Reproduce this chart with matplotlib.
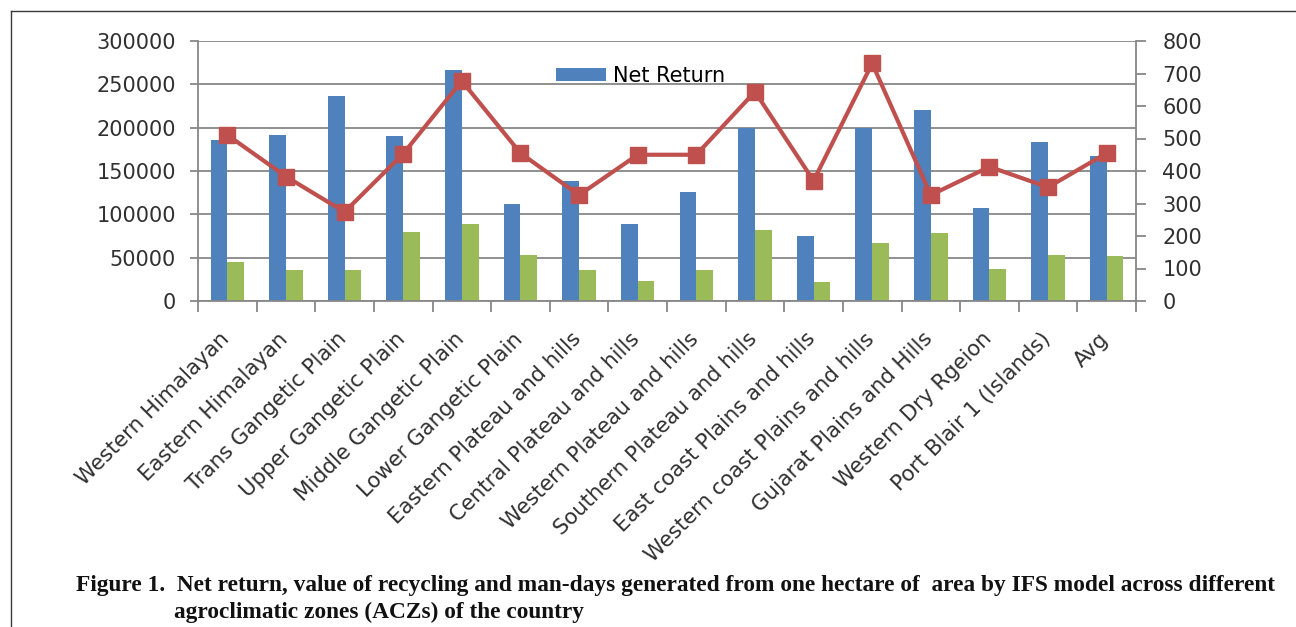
import numpy as np
import matplotlib
matplotlib.use("Agg")
import matplotlib.pyplot as plt
from matplotlib.lines import Line2D
from matplotlib.transforms import ScaledTranslation

zones = [
    "Western Himalayan", "Eastern Himalayan", "Trans Gangetic Plain",
    "Upper Gangetic Plain", "Middle Gangetic Plain", "Lower Gangetic Plain",
    "Eastern Plateau and hills", "Central Plateau and hills",
    "Western Plateau and hills", "Southern Plateau and hills",
    "East coast Plains and hills", "Western coast Plains and hills",
    "Gujarat Plains and Hills", "Western Dry Rgeion",
    "Port Blair 1 (Islands)", "Avg",
]
net_return = [185500, 192000, 236000, 190000, 266000, 111500, 139000, 88500,
              125500, 200000, 74500, 200000, 220000, 107000, 183000, 167000]
recycling_value = [45000, 35500, 35500, 79500, 88500, 53500, 35500, 23500,
                   35500, 81500, 21500, 67500, 79000, 37500, 53500, 51500]
man_days = [511, 383, 274, 453, 677, 455, 326, 450,
            450, 644, 370, 731, 326, 413, 350, 455]

left_ticks = list(range(0, 300001, 50000))
right_ticks = list(range(0, 801, 100))

BLUE = "#4F81BD"
GREEN = "#9BBB59"
RED = "#C0504D"
GRID = "#878787"
TXT = "#303030"

plt.rcParams["font.family"] = ["DejaVu Sans"]

W, H = 1296, 627
fig = plt.figure(figsize=(W / 100, H / 100), dpi=100)

# page frame (left and top rules)
fig.add_artist(Line2D([11 / W, 11 / W], [0, 1 - 11 / H], color="#3a3a3a", lw=1.0))
fig.add_artist(Line2D([11 / W, 1], [1 - 11 / H, 1 - 11 / H], color="#3a3a3a", lw=1.0))

ax = fig.add_axes([198 / W, 1 - 301 / H, (1136 - 198) / W, 260 / H])
x = np.arange(len(zones))
bw = 0.285
ax.bar(x - bw / 2, net_return, bw, color=BLUE, label="Net Return", zorder=2)
ax.bar(x + bw / 2, recycling_value, bw, color=GREEN, zorder=2)
ax.set_xlim(-0.5, len(zones) - 0.5)
ax.set_ylim(0, 300000)
ax.set_yticks(left_ticks)
ax.set_yticklabels([str(v) for v in left_ticks])
ax.yaxis.grid(True, color=GRID, lw=1.3)
ax.set_axisbelow(True)

for s in ["top", "right"]:
    ax.spines[s].set_visible(False)
for s in ["left", "bottom"]:
    ax.spines[s].set_color(GRID)
    ax.spines[s].set_linewidth(1.3)

ax.set_xticks(np.arange(-0.5, len(zones), 1.0))
ax.set_xticklabels([])
ax.tick_params(axis="x", which="major", length=8, width=1.3, color=GRID)
ax.set_xticks(x, minor=True)
ax.set_xticklabels(zones, minor=True, rotation=45, ha="right",
                   rotation_mode="anchor", fontsize=15.3, color=TXT)
ax.tick_params(axis="x", which="minor", length=0, pad=20)
shift = ScaledTranslation(-8 / 100, 0, fig.dpi_scale_trans)
for lab in ax.get_xticklabels(minor=True):
    lab.set_transform(lab.get_transform() + shift)
ax.tick_params(axis="y", length=6, width=1.3, color=GRID, labelsize=15,
               labelcolor=TXT, pad=10)

ax2 = ax.twinx()
ax2.plot(x, man_days, color=RED, lw=3, marker="s", ms=11, zorder=3)
ax2.set_ylim(0, 800)
ax2.set_yticks(right_ticks)
ax2.set_yticklabels([str(v) for v in right_ticks])
for s in ["top", "left", "bottom"]:
    ax2.spines[s].set_visible(False)
ax2.spines["right"].set_color(GRID)
ax2.spines["right"].set_linewidth(1.3)
ax2.tick_params(axis="y", length=7, width=1.3, color=GRID, labelsize=15,
                labelcolor=TXT, pad=12)

h, l = ax.get_legend_handles_labels()
fig.legend(h, l, loc="center left", bbox_to_anchor=(556 / W, 1 - 76 / H),
           frameon=False, fontsize=15, handlelength=2.4, handleheight=0.6,
           handletextpad=0.35, borderpad=0, borderaxespad=0)

# caption
line1 = ("Figure 1.  Net return, value of recycling and man-days generated from "
         "one hectare of  area by IFS model across different")
line2 = "agroclimatic zones (ACZs) of the country"
cap_kw = dict(family="Liberation Serif", fontweight="bold", va="baseline",
              ha="left", color="#111111")
t1 = fig.text(76 / W, 1 - 591 / H, line1, fontsize=15, **cap_kw)
fig.canvas.draw()
r = fig.canvas.get_renderer()
wpx = t1.get_window_extent(r).width
fs = 15 * (1200 / wpx)
t1.set_fontsize(fs)
fig.text(174 / W, 1 - 618 / H, line2, fontsize=fs, **cap_kw)

fig.savefig("out.png", dpi=100)
